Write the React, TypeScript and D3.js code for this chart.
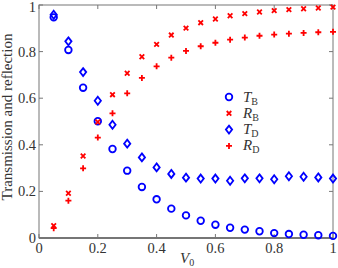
import React from "react";
import * as d3 from "d3";

const v0 = [0.05, 0.1, 0.15, 0.2, 0.25, 0.3, 0.35, 0.4, 0.45, 0.5, 0.55, 0.6, 0.65, 0.7, 0.75, 0.8, 0.85, 0.9, 0.95, 1.0];
const tB = [0.947, 0.807, 0.645, 0.501, 0.382, 0.289, 0.219, 0.166, 0.126, 0.097, 0.074, 0.057, 0.044, 0.036, 0.029, 0.021, 0.017, 0.014, 0.012, 0.009];
const rB = [0.053, 0.192, 0.352, 0.498, 0.615, 0.707, 0.778, 0.831, 0.871, 0.901, 0.924, 0.94, 0.954, 0.963, 0.97, 0.976, 0.98, 0.984, 0.987, 0.991];
const tD = [0.958, 0.844, 0.712, 0.589, 0.486, 0.405, 0.346, 0.303, 0.275, 0.259, 0.255, 0.255, 0.246, 0.256, 0.256, 0.252, 0.265, 0.263, 0.26, 0.255];
const rD = [0.042, 0.16, 0.299, 0.431, 0.535, 0.621, 0.687, 0.737, 0.774, 0.803, 0.823, 0.838, 0.851, 0.86, 0.868, 0.873, 0.877, 0.88, 0.883, 0.885];
const xTicks = [0, 0.2, 0.4, 0.6, 0.8, 1];
const yTicks = [0, 0.2, 0.4, 0.6, 0.8, 1];

const W = 338;
const H = 268;
const margin = { top: 5, right: 5, bottom: 30, left: 39 };
const font = "'Liberation Serif', 'DejaVu Serif', serif";
const blue = "#0000ff";
const red = "#ff0000";

const Marker = ({ kind, x, y }: { kind: string; x: number; y: number }) => {
  if (kind === "circle")
    return <circle cx={x} cy={y} r={3.3} fill="none" stroke={blue} strokeWidth={1.8} />;
  if (kind === "diamond") {
    const s = 4;
    return (
      <path
        d={`M${x},${y - s}L${x + s * 0.78},${y}L${x},${y + s}L${x - s * 0.78},${y}Z`}
        fill="none"
        stroke={blue}
        strokeWidth={1.8}
      />
    );
  }
  if (kind === "x") {
    const s = 2.3;
    return (
      <path
        d={`M${x - s},${y - s}L${x + s},${y + s}M${x - s},${y + s}L${x + s},${y - s}`}
        stroke={red}
        strokeWidth={1.8}
      />
    );
  }
  const s = 3;
  return <path d={`M${x - s},${y}L${x + s},${y}M${x},${y - s}L${x},${y + s}`} stroke={red} strokeWidth={1.8} />;
};

const series = [
  { name: "T", sub: "B", kind: "circle", values: tB },
  { name: "R", sub: "B", kind: "x", values: rB },
  { name: "T", sub: "D", kind: "diamond", values: tD },
  { name: "R", sub: "D", kind: "plus", values: rD },
];

export default function App() {
  const x = d3.scaleLinear().domain([0, 1]).range([margin.left, W - margin.right]);
  const y = d3.scaleLinear().domain([0, 1]).range([H - margin.bottom, margin.top]);
  const x0 = x.range()[0], x1 = x.range()[1];
  const y0 = y.range()[0], y1 = y.range()[1];
  const tl = 4;

  return (
    <svg width={W} height={H} style={{ position: "absolute", left: 0, top: 0, background: "#fff" }} fontFamily={font}>
      {/* frame */}
      <rect x={x0} y={y1} width={x1 - x0} height={y0 - y1} fill="none" stroke="#777" strokeWidth={1} />
      <line x1={x0} x2={x1} y1={y0} y2={y0} stroke="#333" strokeWidth={1.2} />
      {xTicks.map((t) => (
        <g key={"x" + t}>
          <line x1={x(t)} x2={x(t)} y1={y0} y2={y0 - tl} stroke="#777" />
          <line x1={x(t)} x2={x(t)} y1={y1} y2={y1 + tl} stroke="#777" />
          <text x={x(t)} y={y0 + 15} fontSize={14.5} textAnchor="middle" fill="#333">
            {t}
          </text>
        </g>
      ))}
      {yTicks.map((t) => (
        <g key={"y" + t}>
          <line x1={x0} x2={x0 + tl} y1={y(t)} y2={y(t)} stroke="#777" />
          <line x1={x1} x2={x1 - tl} y1={y(t)} y2={y(t)} stroke="#777" />
          <text x={x0 - 3} y={Math.max(y(t) + 5, 12)} fontSize={14.5} textAnchor="end" fill="#333">
            {t}
          </text>
        </g>
      ))}
      <text
        transform={`translate(12,117) rotate(-90)`}
        fontSize={15}
        textAnchor="middle"
        fill="#333"
      >
        Transmission and reflection
      </text>
      <text x={180} y={263} fontSize={15} fontStyle="italic" fill="#333">
        V<tspan fontStyle="normal" fontSize={10} dy={3}>0</tspan>
      </text>
      {series.map((s) => (
        <g key={s.name + s.sub}>
          {s.values.map((v, i) => (
            <Marker key={i} kind={s.kind} x={x(v0[i])} y={y(v)} />
          ))}
        </g>
      ))}
      {series.map((s, i) => {
        const ly = 97 + i * 16.3;
        return (
          <g key={"leg" + i}>
            <Marker kind={s.kind} x={229} y={ly} />
            <text x={243} y={ly + 4.5} fontSize={15} fill="#333" fontStyle="italic">
              {s.name}
              <tspan fontStyle="normal" fontSize={10} dy={3}>
                {s.sub}
              </tspan>
            </text>
          </g>
        );
      })}
    </svg>
  );
}
